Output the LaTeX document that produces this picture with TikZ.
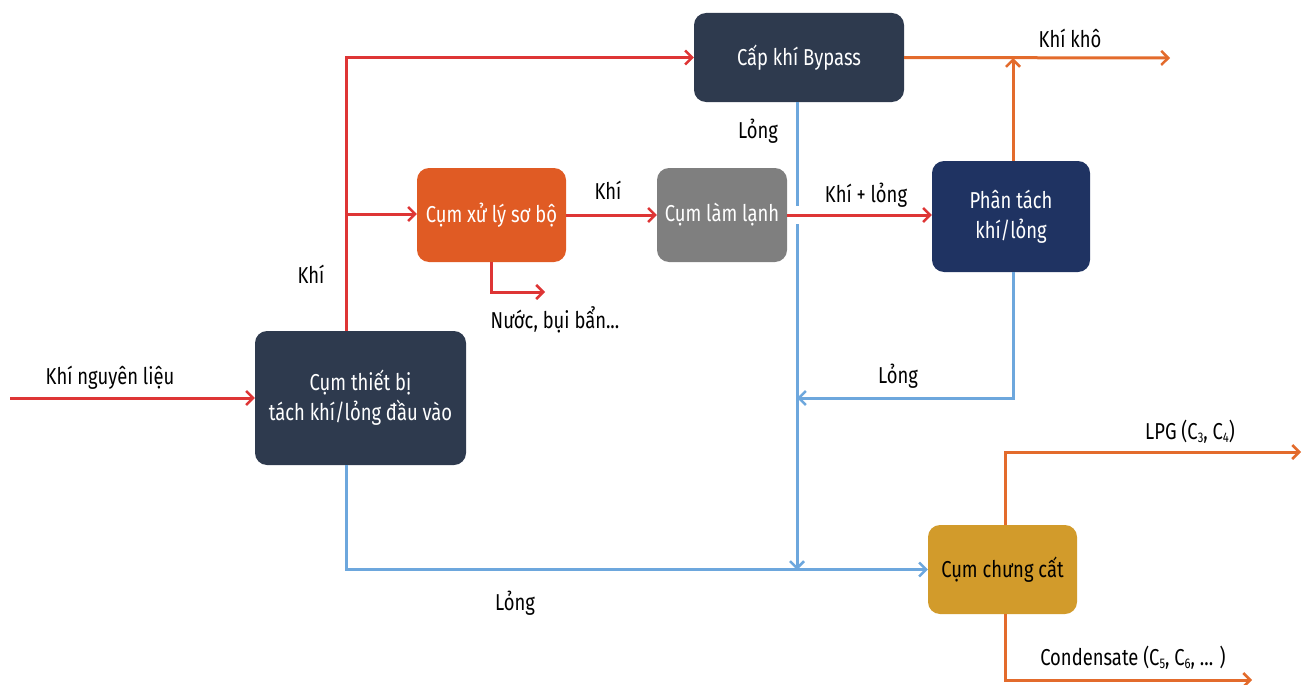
\documentclass[tikz,border=0pt]{standalone}
\usepackage{fontspec}
\setmainfont{Fira Sans}[FakeStretch=0.8]
\usetikzlibrary{arrows.meta,calc}
\definecolor{cdark}{HTML}{2E3A4E}
\definecolor{cnavy}{HTML}{1F3362}
\definecolor{corange}{HTML}{E05B24}
\definecolor{cgray}{HTML}{7F7F7F}
\definecolor{cgold}{HTML}{D29B2B}
\definecolor{lred}{HTML}{DE3535}
\definecolor{lorange}{HTML}{E36B2C}
\definecolor{lblue}{HTML}{6DA7DD}
\newcommand{\sbs}[1]{\raisebox{-0.2ex}{\fontsize{14}{14}\selectfont #1}}
\begin{document}
\begin{tikzpicture}[x=1pt,y=-1pt,
  every node/.style={font=\fontsize{23}{30}\selectfont},
  box/.style={rounded corners=12pt, text=white, align=center, inner sep=0pt},
  lbl/.style={text=black, inner sep=0pt},
  tip/.style={-{Straight Barb[length=7pt,width=14pt,line width=2.5pt]}},
  redl/.style={draw=lred, line width=3pt},
  orl/.style={draw=lorange, line width=3pt},
  bll/.style={draw=lblue, line width=3pt}]
\useasboundingbox (0,0) rectangle (1304,685);
% boxes
\node[box, fill=cdark, minimum width=210pt, minimum height=89pt] (bypass) at (799,57.5) {Cấp khí Bypass};
\node[box, fill=corange, minimum width=149pt, minimum height=94pt] (xuly) at (491.5,215) {Cụm xử lý sơ bộ};
\node[box, fill=cgray, minimum width=130pt, minimum height=94pt] (lamlanh) at (722,215) {Cụm làm lạnh};
\node[box, fill=cnavy, minimum width=158pt, minimum height=111pt] (phantach) at (1011,216.5) {Phân tách\\khí/lỏng};
\node[box, fill=cdark, minimum width=211pt, minimum height=134pt] (thietbi) at (360.5,398) {Cụm thiết bị\\tách khí/lỏng đầu vào};
\node[box, fill=cgold, text=black, minimum width=149pt, minimum height=89pt] (chungcat) at (1002.5,569.5) {Cụm chưng cất};
% coordinates
\coordinate (in) at (10,398);
\coordinate (j1) at (346,214);
\coordinate (waste) at (545,292);
\coordinate (kk) at (1170,58);
\coordinate (jk) at (1013,58);
\coordinate (jb) at (797,398);
\coordinate (jc) at (797,570);
\coordinate (lpg) at (1301,452);
\coordinate (cond) at (1252,680);
% blue lines
\draw[bll, tip] (797,0 |- bypass.south) -- (jc);
\draw[bll, tip] (1013,0 |- phantach.south) |- (jb);
\draw[bll, tip] (346,0 |- thietbi.south) |- (chungcat.west);
\fill[white] (792,206) rectangle (802,224);
% red lines
\draw[redl, tip] (in) -- (thietbi.west);
\draw[redl, tip] (346,0 |- thietbi.north) |- (bypass.west);
\draw[redl, tip] (j1) -- (j1 -| xuly.west);
\draw[redl, tip] (491,0 |- xuly.south) |- (waste);
\draw[redl, tip] (xuly.east) -- (lamlanh.west);
\draw[redl, tip] (lamlanh.east) -- (lamlanh.east -| phantach.west);
% orange lines
\draw[orl, tip] (bypass.east) -- (kk);
\draw[orl, tip] (1013,0 |- phantach.north) -- (jk);
\draw[orl, tip] (1005,0 |- chungcat.north) |- (lpg);
\draw[orl, tip] (1005,0 |- chungcat.south) |- (cond);
% labels
\node[lbl] (l1) at (110,378) {Khí nguyên liệu};
\node[lbl] (l2) at (311,274) {Khí};
\node[lbl] (l3) at (555,320) {Nước, bụi bẩn...};
\node[lbl] (l4) at (608,190) {Khí};
\node[lbl] (l5) at (866,195) {Khí + lỏng};
\node[lbl] (l6) at (758,131) {Lỏng};
\node[lbl] (l7) at (1070,38) {Khí khô};
\node[lbl] (l8) at (898,376) {Lỏng};
\node[lbl] (l9) at (515,603) {Lỏng};
\node[lbl] (l10) at (1190,432) {LPG (C\sbs{3}, C\sbs{4})};
\node[lbl] (l11) at (1133,658) {Condensate (C\sbs{5}, C\sbs{6}, ... )};
\end{tikzpicture}
\end{document}
